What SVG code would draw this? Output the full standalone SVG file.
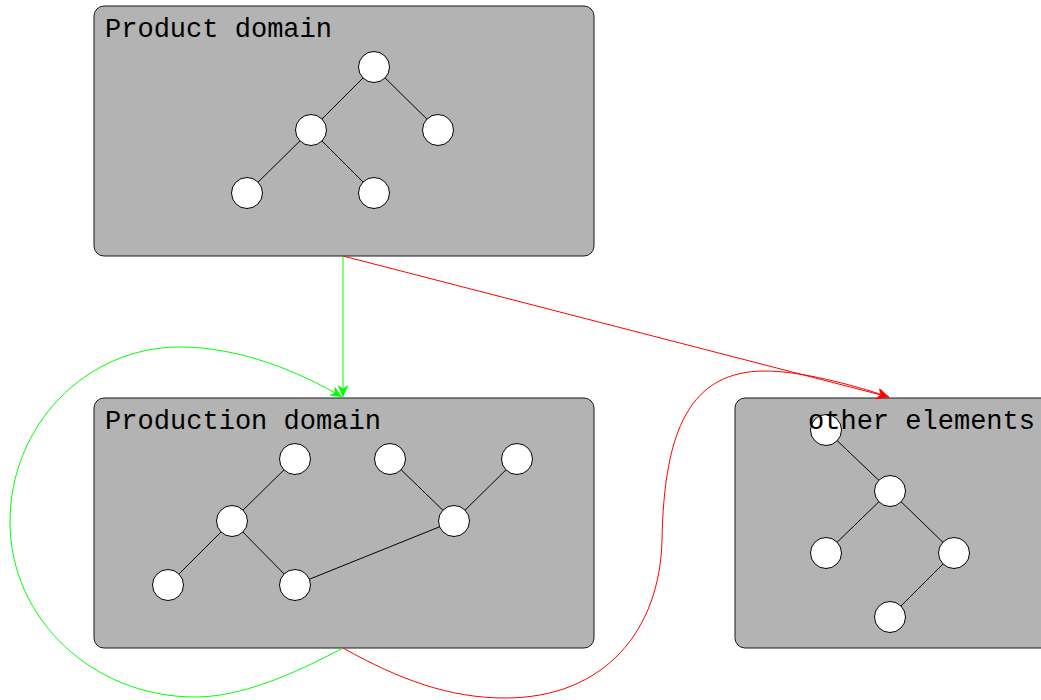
<svg xmlns="http://www.w3.org/2000/svg" width="1041" height="700" viewBox="0 0 1041 700">
<style>
.box{fill:#b3b3b3;stroke:#1a1a1a;stroke-width:1}
.lbl{font-family:"Liberation Mono","DejaVu Sans Mono",monospace;font-size:28.5px;fill:#000}
.n{fill:#fff;stroke:#000;stroke-width:1}
.e{stroke:#000;stroke-width:1;fill:none}
.g{stroke:#00ff00;stroke-width:1;fill:none}
.r{stroke:#ff0000;stroke-width:1;fill:none}
</style>
<defs>
<marker id="ag" markerUnits="userSpaceOnUse" markerWidth="16" markerHeight="12" refX="13" refY="6" orient="auto" viewBox="0 0 16 12">
<path d="M13,6 L1,0.5 L4.5,6 L1,11.5 Z" fill="#00ff00"/>
</marker>
<marker id="ar" markerUnits="userSpaceOnUse" markerWidth="16" markerHeight="12" refX="13" refY="6" orient="auto" viewBox="0 0 16 12">
<path d="M13,6 L1,0.5 L4.5,6 L1,11.5 Z" fill="#ff0000"/>
</marker>
</defs>
<g id="product-domain">
<rect class="box" x="94" y="6" width="500" height="250" rx="10"/>
<line class="e" x1="374" y1="67" x2="311" y2="130"/>
<line class="e" x1="374" y1="67" x2="438" y2="130"/>
<line class="e" x1="311" y1="130" x2="247" y2="193"/>
<line class="e" x1="311" y1="130" x2="374" y2="193"/>
<circle class="n" cx="374" cy="67" r="15.5"/>
<circle class="n" cx="311" cy="130" r="15.5"/>
<circle class="n" cx="438" cy="130" r="15.5"/>
<circle class="n" cx="247" cy="193" r="15.5"/>
<circle class="n" cx="374" cy="193" r="15.5"/>
<text class="lbl" x="105" y="37" textLength="227" lengthAdjust="spacingAndGlyphs">Product domain</text>
</g>
<g id="production-domain">
<rect class="box" x="94" y="398" width="500" height="250" rx="10"/>
<line class="e" x1="295" y1="459" x2="232" y2="521"/>
<line class="e" x1="232" y1="521" x2="168" y2="585"/>
<line class="e" x1="232" y1="521" x2="295" y2="585"/>
<line class="e" x1="295" y1="585" x2="454" y2="521"/>
<line class="e" x1="390" y1="459" x2="454" y2="521"/>
<line class="e" x1="517" y1="459" x2="454" y2="521"/>
<circle class="n" cx="295" cy="459" r="15.5"/>
<circle class="n" cx="232" cy="521" r="15.5"/>
<circle class="n" cx="168" cy="585" r="15.5"/>
<circle class="n" cx="295" cy="585" r="15.5"/>
<circle class="n" cx="390" cy="459" r="15.5"/>
<circle class="n" cx="517" cy="459" r="15.5"/>
<circle class="n" cx="454" cy="521" r="15.5"/>
<text class="lbl" x="105" y="429" textLength="276" lengthAdjust="spacingAndGlyphs">Production domain</text>
</g>
<g id="other-elements">
<rect class="box" x="735" y="398" width="500" height="250" rx="10"/>
<line class="e" x1="826" y1="430" x2="890" y2="491"/>
<line class="e" x1="890" y1="491" x2="826" y2="553"/>
<line class="e" x1="890" y1="491" x2="954" y2="553"/>
<line class="e" x1="954" y1="553" x2="890" y2="617"/>
<circle class="n" cx="826" cy="430" r="15.5"/>
<circle class="n" cx="890" cy="491" r="15.5"/>
<circle class="n" cx="826" cy="553" r="15.5"/>
<circle class="n" cx="954" cy="553" r="15.5"/>
<circle class="n" cx="890" cy="617" r="15.5"/>
<text class="lbl" x="808" y="429" textLength="227" lengthAdjust="spacingAndGlyphs">other elements</text>
</g>
<g id="connectors">
<line class="g" x1="343" y1="256" x2="343" y2="397" marker-end="url(#ag)"/>
<line class="r" x1="343" y1="256" x2="889" y2="397" marker-end="url(#ar)"/>
<path class="g" d="M343,648 C290,676 240,697 195,697 C93,697 10,619 10,522 C10,425 86,347 180,347 C240,347 300,372 342,397" marker-end="url(#ag)"/>
<path class="r" d="M343,648 C400,680 450,698 505,698 C605,698 660,630 662,540 C664,430 690,371 765,371 C800,371 850,384 889,397" marker-end="url(#ar)"/>
</g>
</svg>
